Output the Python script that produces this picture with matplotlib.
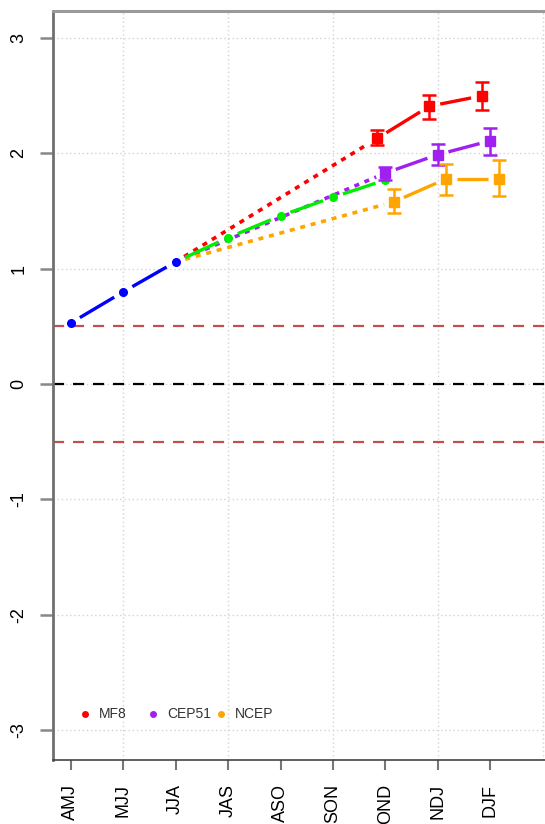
import matplotlib.pyplot as plt
import numpy as np

plt.rcParams['font.family'] = ['Liberation Sans', 'DejaVu Sans']

# Seasons on the x axis (three-month running windows)
seasons = ['AMJ', 'MJJ', 'JJA', 'JAS', 'ASO', 'SON', 'OND', 'NDJ', 'DJF']

# Observed index up to JJA
obs = [0.53, 0.80, 1.06]

# Green trajectory from JJA through OND
green_vals = [1.06, 1.27, 1.46, 1.62, 1.77]

# Model forecasts for OND, NDJ, DJF with ranges
models = ['MF8', 'CEP51', 'NCEP']
colors = ['#FF0000', '#A020F0', '#FFA500']
offsets = [-0.16, 0.0, 0.16]
mf8 = [2.13, 2.41, 2.50]
mf8_lo = [2.07, 2.30, 2.38]
mf8_hi = [2.20, 2.51, 2.62]
cep51 = [1.83, 1.99, 2.11]
cep51_lo = [1.77, 1.90, 1.99]
cep51_hi = [1.88, 2.08, 2.22]
ncep = [1.58, 1.78, 1.78]
ncep_lo = [1.48, 1.64, 1.63]
ncep_hi = [1.69, 1.91, 1.94]

thresholds = [0.5, -0.5]

fig = plt.figure(figsize=(5.45, 8.24), dpi=100)
ax = fig.add_axes([53 / 545, 64.5 / 824, 508 / 545, 749 / 824])
ax.set_xlim(0.66, 10.35)
ax.set_ylim(-3.256, 3.24)

x = np.arange(1, len(seasons) + 1)


def gapped(xs, ys, gap=10, **kw):
    # line segments between points, trimmed near each point (like R type="b")
    pts = ax.transData.transform(np.column_stack([xs, ys]))
    inv = ax.transData.inverted()
    for p, q in zip(pts[:-1], pts[1:]):
        d = q - p
        L = np.hypot(*d)
        if L <= 2 * gap:
            continue
        u = d / L
        seg = inv.transform(np.array([p + u * gap, q - u * gap]))
        ax.plot(seg[:, 0], seg[:, 1], solid_capstyle='butt', **kw)


# grid
for gx in [2, 4, 6, 8, 10]:
    ax.axvline(gx, color='#d3d3d3', lw=1, ls=(0, (1, 2)), zorder=0)
for gy in range(-3, 4):
    ax.axhline(gy, color='#d3d3d3', lw=1, ls=(0, (1, 2)), zorder=0)

for t in thresholds:
    ax.axhline(t, color='#C0504D', lw=1.6, ls=(0, (5, 4)), zorder=1)
ax.axhline(0, color='black', lw=1.6, ls=(0, (5, 4)), zorder=1)

fc = [mf8, cep51, ncep]
lo = [mf8_lo, cep51_lo, ncep_lo]
hi = [mf8_hi, cep51_hi, ncep_hi]
xf = x[6:9]

# dotted lead-in from JJA to the first forecast season
for vals, col, off in zip(fc, colors, offsets):
    gapped([x[2], xf[0] + off], [obs[-1], vals[0]], gap=10,
           color=col, lw=2.6, ls=(0, (1.4, 1.6)), zorder=2)

# green trajectory
gx_ = x[2:7]
gapped(gx_, green_vals, gap=10.5, color='#00EE00', lw=2.4, zorder=3)
ax.plot(gx_[1:], green_vals[1:], 'o', color='#00EE00', ms=5.5, zorder=4)

# observed
gapped(x[:3], obs, gap=10.5, color='#0000FF', lw=2.4, zorder=3)
ax.plot(x[:3], obs, 'o', color='#0000FF', ms=5.5, zorder=4)

# forecasts with ranges
for vals, l, h, col, off in zip(fc, lo, hi, colors, offsets):
    xs = xf + off
    gapped(xs, vals, gap=11, color=col, lw=2.4, zorder=3)
    v = np.array(vals)
    ax.errorbar(xs, v, yerr=[v - np.array(l), np.array(h) - v], fmt='s',
                color=col, ms=7.5, elinewidth=1.8, capsize=5, capthick=1.8,
                zorder=5)

# legend row
for i, (name, col) in enumerate(zip(models, colors)):
    lx = 0.063 + i * 0.1339
    ax.plot(lx, 0.0607, 'o', color=col, ms=4, transform=ax.transAxes,
            clip_on=False)
    ax.text(lx + 0.0276, 0.0607, name, transform=ax.transAxes,
            fontsize=10, color='#333333', va='center', ha='left')

ax.set_xticks(x)
ax.set_xticklabels(seasons, rotation=90, fontsize=13)
ax.set_yticks(range(-3, 4))
ax.set_yticklabels([str(v) for v in range(-3, 4)], rotation=90,
                   fontsize=13, va='center')
ax.tick_params(axis='x', length=7.5, width=1.5, color='#777777', pad=10)
ax.tick_params(axis='y', length=9.4, width=1.8, color='#888888', pad=9)

ax.spines['left'].set_color('#707070')
ax.spines['left'].set_linewidth(2)
ax.spines['bottom'].set_color('#444444')
ax.spines['bottom'].set_linewidth(1.2)
ax.spines['top'].set_color('#9a9a9a')
ax.spines['top'].set_linewidth(2.2)
ax.spines['right'].set_visible(False)

fig.savefig('out.png', dpi=100)
